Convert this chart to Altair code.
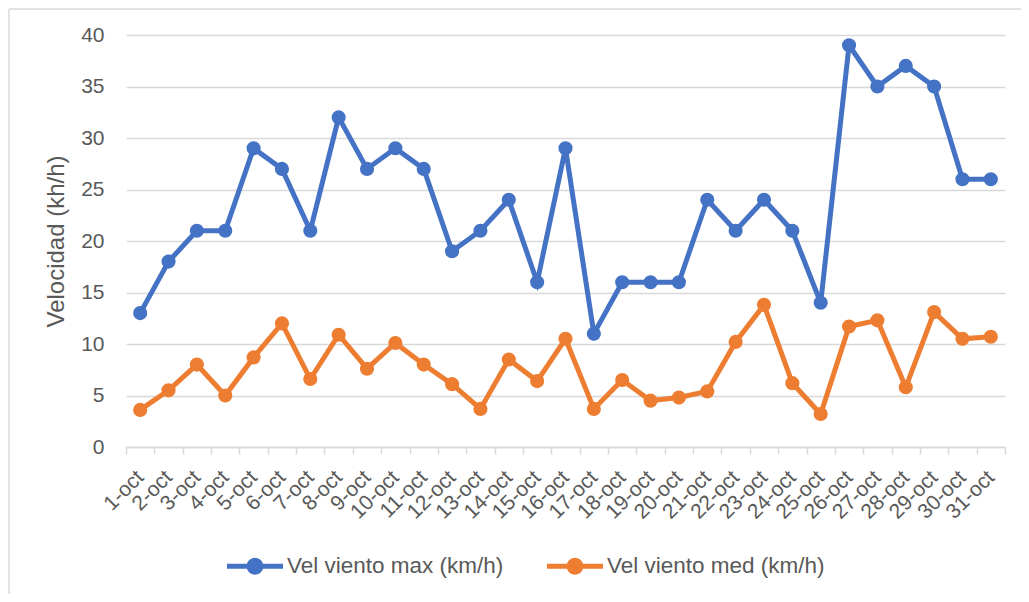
import altair as alt
import pandas as pd

dias = ["1-oct", "2-oct", "3-oct", "4-oct", "5-oct", "6-oct", "7-oct", "8-oct",
        "9-oct", "10-oct", "11-oct", "12-oct", "13-oct", "14-oct", "15-oct",
        "16-oct", "17-oct", "18-oct", "19-oct", "20-oct", "21-oct", "22-oct",
        "23-oct", "24-oct", "25-oct", "26-oct", "27-oct", "28-oct", "29-oct",
        "30-oct", "31-oct"]

vel_max = [13, 18, 21, 21, 29, 27, 21, 32, 27, 29, 27, 19, 21, 24, 16, 29,
           11, 16, 16, 16, 24, 21, 24, 21, 14, 39, 35, 37, 35, 26, 26]

vel_med = [3.6, 5.5, 8.0, 5.0, 8.7, 12.0, 6.6, 10.9, 7.6, 10.1, 8.0, 6.1,
           3.7, 8.5, 6.4, 10.5, 3.7, 6.5, 4.5, 4.8, 5.4, 10.2, 13.8, 6.2,
           3.2, 11.7, 12.3, 5.8, 13.1, 10.5, 10.7]

series = ["Vel viento max (km/h)", "Vel viento med (km/h)"]
colores = ["#4472C4", "#ED7D31"]
y_ticks = [0, 5, 10, 15, 20, 25, 30, 35, 40]

rows = []
for s, vals in zip(series, [vel_max, vel_med]):
    for d, v in zip(dias, vals):
        rows.append({"dia": d, "valor": v, "serie": s})
df = pd.DataFrame(rows)

FONT = "Liberation Sans"
TXT = "#595959"
GRID = "#d9d9d9"

color_scale = alt.Scale(domain=series, range=colores)

legend_path = ("M-1,-0.09 L1,-0.09 L1,0.09 L-1,0.09 Z "
               "M0.3,0 A0.3,0.3 0 1,1 -0.3,0 A0.3,0.3 0 1,1 0.3,0 Z")

leyenda = alt.Legend(
    title=None,
    orient="none",
    legendX=101,
    legendY=503,
    direction="horizontal",
    symbolType=legend_path,
    symbolSize=3136,
    symbolStrokeWidth=0,
    symbolOpacity=1,
    labelFont=FONT,
    labelFontSize=22.5,
    labelColor=TXT,
    labelLimit=400,
    labelOffset=4,
    columnPadding=43,
    padding=0,
)

base = alt.Chart(df).encode(
    x=alt.X(
        "dia:N",
        sort=dias,
        bandPosition=0.5,
        scale=alt.Scale(type="band", paddingInner=0, paddingOuter=0),
        axis=alt.Axis(
            title=None,
            labelAngle=-45,
            labelAlign="right",
            labelBaseline="middle",
            labelOverlap=False,
            tickBand="extent",
            ticks=True,
            tickSize=7,
            tickColor=GRID,
            tickWidth=1.5,
            domainColor=GRID,
            domainWidth=1.5,
            labelPadding=20,
            labelFontSize=21,
            labelColor=TXT,
            labelFont=FONT,
            grid=False,
        ),
    ),
    y=alt.Y(
        "valor:Q",
        scale=alt.Scale(domain=[0, 40], nice=False, zero=True),
        axis=alt.Axis(
            values=y_ticks,
            title="Velocidad (kh/h)",
            titleFont=FONT,
            titleFontSize=24,
            titleFontWeight="normal",
            titleColor=TXT,
            titlePadding=12,
            domain=False,
            ticks=False,
            grid=True,
            gridColor=GRID,
            gridWidth=1.3,
            labelFont=FONT,
            labelFontSize=21,
            labelColor=TXT,
            labelPadding=22,
        ),
    ),
    color=alt.Color("serie:N", scale=color_scale, legend=leyenda),
)

puntos = base.mark_circle(size=200, opacity=1)
lineas = base.mark_line(strokeWidth=5)

# chart frame (top and left edges, as in the reference)
marco_data = alt.Data(values=[{"k": 0}])
marco_top = alt.Chart(marco_data).mark_rule(color=GRID, strokeWidth=1.5).encode(
    x=alt.value(-117), x2=alt.value(896), y=alt.value(-26)
)
marco_left = alt.Chart(marco_data).mark_rule(color=GRID, strokeWidth=1.5).encode(
    x=alt.value(-117), y=alt.value(-26), y2=alt.value(560)
)

chart = alt.layer(marco_top, marco_left, puntos, lineas).properties(
    width=879,
    height=412,
    autosize=alt.AutoSizeParams(type="none"),
    padding={"left": 118, "top": 27, "right": 16, "bottom": 147},
).configure_view(stroke=None)

chart.save("out.html", embed_options={"renderer": "svg", "actions": False})
